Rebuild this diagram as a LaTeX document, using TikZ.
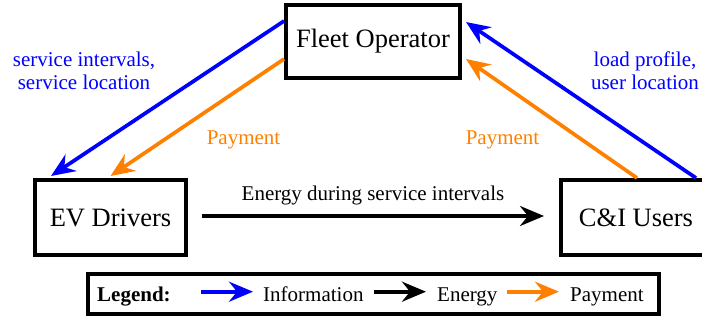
\documentclass[tikz,border=0pt]{standalone}
\usepackage{fontspec}
\setmainfont{Liberation Serif}
\usetikzlibrary{arrows.meta,calc}

\begin{document}
\begin{tikzpicture}[x=1pt,y=-1pt,
  box/.style={draw, line width=4pt, inner sep=0pt, font=\fontsize{26.5}{30}\selectfont},
  lbl/.style={font=\fontsize{21}{23.5}\selectfont, align=center, inner sep=0pt},
  flow/.style={line width=3.7pt, -{Stealth[length=24pt,width=20pt,inset=8pt]}},
  info/.style={flow, blue},
  pay/.style={flow, orange},
  nrg/.style={flow, black}]
\useasboundingbox (0,0) rectangle (702,320);
\clip (0,0) rectangle (702,320);

% actors
\node[box, minimum width=174pt, minimum height=73pt] (fleet) at (373,41.5) {Fleet Operator};
\node[box, minimum width=151pt, minimum height=75pt] (ev) at (110.5,217.5) {EV Drivers};
\node[box, minimum width=150pt, minimum height=75pt] (ci) at (636,217.5) {C\&I Users};

% fleet operator -> EV drivers
\draw[info] ([yshift=-18pt]fleet.north west) -- ([xshift=18pt,yshift=2pt]ev.north west);
\draw[pay] ([yshift=-56pt]fleet.north west) -- ([yshift=2pt]ev.north);
\node[lbl, blue] (svc) at (84,71) {service intervals,\\service location};
\node[lbl, orange] (payl) at (243.5,140) {Payment};

% C&I users -> fleet operator
\draw[info] ([xshift=-17pt]ci.north east) -- ([xshift=4pt,yshift=-19pt]fleet.north east);
\draw[pay] ([xshift=1pt]ci.north) -- ([xshift=4pt,yshift=-56pt]fleet.north east);
\node[lbl, blue] (load) at (645,70.5) {load profile,\\user location};
\node[lbl, orange] (payr) at (502.5,140) {Payment};

% energy flow
\draw[nrg] ([xshift=14pt,yshift=1.5pt]ev.east) -- node[lbl, above=9.5pt] (nrgl) {Energy during service intervals} ([xshift=-15pt,yshift=1.5pt]ci.west);

% legend
\node[draw, line width=4pt, minimum width=571pt, minimum height=40pt, inner sep=0pt] (legend) at (373.5,294) {};
\node[lbl, anchor=base west, font=\fontsize{21}{23.5}\selectfont\bfseries] (lgt) at (97,302) {Legend:};
\coordinate (i0) at (201,291.7);
\coordinate (i1) at (253,291.7);
\node[lbl, anchor=base west] (il) at (263,302) {Information};
\coordinate (e0) at (374,291.7);
\coordinate (e1) at (426,291.7);
\node[lbl, anchor=base west] (el) at (437,302) {Energy};
\coordinate (p0) at (507,291.7);
\coordinate (p1) at (559,291.7);
\node[lbl, anchor=base west] (pl) at (570,302) {Payment};
\draw[info] (i0) -- (i1);
\draw[nrg] (e0) -- (e1);
\draw[pay] (p0) -- (p1);
\end{tikzpicture}
\end{document}
